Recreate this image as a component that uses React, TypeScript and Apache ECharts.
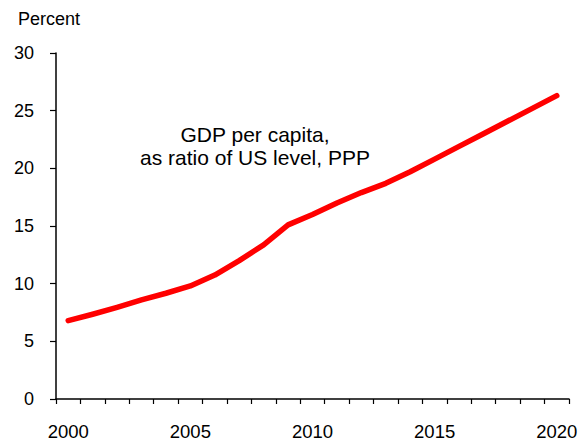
import React, { useEffect, useRef } from "react";
import * as echarts from "echarts";

const years = ["2000","2001","2002","2003","2004","2005","2006","2007","2008","2009","2010","2011","2012","2013","2014","2015","2016","2017","2018","2019","2020"];
const gdpRatio = [6.8, 7.35, 7.95, 8.6, 9.17, 9.8, 10.75, 12.0, 13.36, 15.1, 16.0, 17.0, 17.9, 18.7, 19.7, 20.8, 21.9, 23.0, 24.1, 25.2, 26.3];
const yTicks = { min: 0, max: 30, interval: 5 };
const unitLabel = "Percent";
const noteLines = ["GDP per capita,", "as ratio of US level, PPP"];

export default function App() {
  const ref = useRef<HTMLDivElement>(null);
  useEffect(() => {
    const chart = echarts.init(ref.current!, null, { renderer: "svg" });
    const font = "Liberation Sans, Arial, sans-serif";
    chart.setOption({
      animation: false,
      textStyle: { fontFamily: font },
      grid: { left: 56, right: 19, top: 53, bottom: 46, containLabel: false },
      xAxis: {
        type: "category",
        data: years,
        boundaryGap: true,
        axisLine: { lineStyle: { color: "#000", width: 1.5 } },
        axisTick: { show: true, length: 5, interval: 0, lineStyle: { color: "#000", width: 1.2 } },
        axisLabel: {
          interval: 4,
          color: "#000",
          fontSize: 18.5,
          fontFamily: font,
          margin: 23,
        },
        splitLine: { show: false },
      },
      yAxis: {
        type: "value",
        min: yTicks.min,
        max: yTicks.max,
        interval: yTicks.interval,
        axisLine: { show: true, lineStyle: { color: "#000", width: 1.5 } },
        axisTick: { show: true, length: 6, lineStyle: { color: "#000", width: 1.2 } },
        axisLabel: { color: "#000", fontSize: 18, fontFamily: font, margin: 22 },
        splitLine: { show: false },
      },
      graphic: [
        {
          type: "text",
          left: 18,
          top: 10,
          style: { text: unitLabel, fill: "#000", fontSize: 18, fontFamily: font },
        },
        {
          type: "text",
          x: 255,
          y: 146,
          style: {
            text: noteLines.join("\n"),
            fill: "#000",
            fontSize: 21,
            lineHeight: 23,
            fontFamily: font,
            align: "center",
            verticalAlign: "middle",
          },
        },
      ],
      series: [
        {
          type: "line",
          data: gdpRatio,
          symbol: "none",
          lineStyle: { color: "#ff0000", width: 5.5, cap: "round", join: "round" },
        },
      ],
    });
    return () => chart.dispose();
  }, []);
  return <div ref={ref} style={{ width: 588, height: 445, position: "absolute", left: 0, top: 0 }} />;
}
